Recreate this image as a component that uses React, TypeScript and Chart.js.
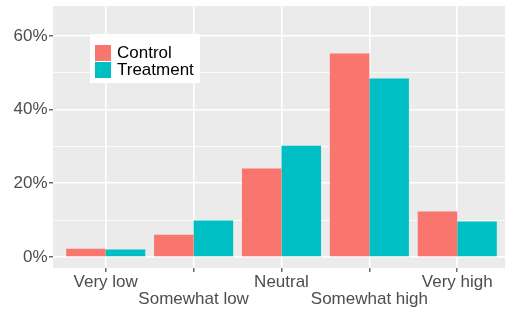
import React, { useEffect, useRef } from "react";
import { Chart, registerables } from "chart.js";

Chart.register(...registerables);

const categories = ["Very low", "Somewhat low", "Neutral", "Somewhat high", "Very high"];
const seriesNames = ["Control", "Treatment"];
const controlValues = [2.25, 6.05, 24.0, 55.2, 12.3];
const treatmentValues = [2.0, 9.9, 30.2, 48.4, 9.6];
const yTickValues = [0, 10, 20, 30, 40, 50, 60];
const yLabeledTicks = [0, 20, 40, 60];
const colors = ["#F8766D", "#00BFC4"];

const FONT = "'Liberation Sans', Arial, sans-serif";

const panelBg = {
  id: "panelBg",
  beforeDraw(chart: any) {
    const { ctx, chartArea } = chart;
    ctx.save();
    ctx.fillStyle = "#EBEBEB";
    ctx.fillRect(chartArea.left, chartArea.top, chartArea.right - chartArea.left, chartArea.bottom - chartArea.top);
    ctx.restore();
  },
};

const legendBox = {
  id: "legendBox",
  afterDraw(chart: any) {
    const { ctx } = chart;
    ctx.save();
    ctx.fillStyle = "#FFFFFF";
    ctx.fillRect(90, 34, 110, 49);
    ctx.font = `17px ${FONT}`;
    ctx.textBaseline = "middle";
    ctx.textAlign = "left";
    seriesNames.forEach((name, i) => {
      const y = 45 + i * 17;
      ctx.fillStyle = colors[i];
      ctx.fillRect(95, y, 16, 16);
      ctx.fillStyle = "#000000";
      ctx.fillText(name, 117, y + 8.5);
    });
    ctx.restore();
  },
};

export default function App() {
  const ref = useRef<HTMLCanvasElement>(null);
  useEffect(() => {
    if (!ref.current) return;
    const chart = new Chart(ref.current, {
      type: "bar",
      data: {
        datasets: [
          {
            label: seriesNames[0],
            data: controlValues.map((v, i) => ({ x: i + 1, y: v })),
            backgroundColor: colors[0],
            borderWidth: 0,
          },
          {
            label: seriesNames[1],
            data: treatmentValues.map((v, i) => ({ x: i + 1, y: v })),
            backgroundColor: colors[1],
            borderWidth: 0,
          },
        ],
      },
      options: {
        responsive: false,
        animation: false,
        devicePixelRatio: 1,
        layout: { padding: { top: 6, left: 0, right: 0, bottom: 0 } },
        plugins: { legend: { display: false }, tooltip: { enabled: false } },
        datasets: { bar: { categoryPercentage: 0.9, barPercentage: 1 } },
        scales: {
          x: {
            type: "linear",
            min: 0.4,
            max: 5.6,
            offset: false,
            afterBuildTicks(scale: any) {
              scale.ticks = categories.map((_, i) => ({ value: i + 1 }));
            },
            afterFit(scale: any) {
              scale.height = 43;
              scale.paddingLeft = 0;
              scale.paddingRight = 0;
            },
            border: { display: false },
            grid: {
              offset: false,
              color: "#FFFFFF",
              lineWidth: 1.6,
              drawTicks: true,
              tickLength: 4,
              tickColor: "#333333",
              tickWidth: 1.1,
            },
            ticks: {
              autoSkip: false,
              maxRotation: 0,
              minRotation: 0,
              padding: 2,
              color: "#4D4D4D",
              font: { family: FONT, size: 17, lineHeight: 0.98 },
              callback: (value: any) => {
                const i = Math.round(Number(value)) - 1;
                const lab = categories[i] ?? "";
                return i % 2 === 0 ? [lab] : ["", lab];
              },
            },
          },
          y: {
            type: "linear",
            min: -3,
            max: 68.1,
            afterBuildTicks(scale: any) {
              scale.ticks = yTickValues.map((v) => ({ value: v }));
            },
            afterFit(scale: any) {
              scale.width = 53;
              scale.paddingTop = 0;
              scale.paddingBottom = 0;
            },
            border: { display: false },
            grid: {
              color: "#FFFFFF",
              lineWidth: (c: any) => (yLabeledTicks.includes(c.tick?.value) ? 1.6 : 0.8),
              drawTicks: true,
              tickLength: 4,
              tickColor: (c: any) => (yLabeledTicks.includes(c.tick?.value) ? "#333333" : "rgba(0,0,0,0)"),
              tickWidth: 1.1,
            },
            ticks: {
              padding: 1.5,
              color: "#4D4D4D",
              font: { family: FONT, size: 17 },
              callback: (value: any) => (yLabeledTicks.includes(Number(value)) ? `${value}%` : ""),
            },
          },
        },
      },
      plugins: [panelBg, legendBox],
    } as any);
    return () => chart.destroy();
  }, []);
  return (
    <div style={{ position: "fixed", left: 0, top: 0, width: 505, height: 311, overflow: "hidden", background: "#fff" }}>
      <canvas ref={ref} width={510} height={311} style={{ display: "block" }} />
    </div>
  );
}
